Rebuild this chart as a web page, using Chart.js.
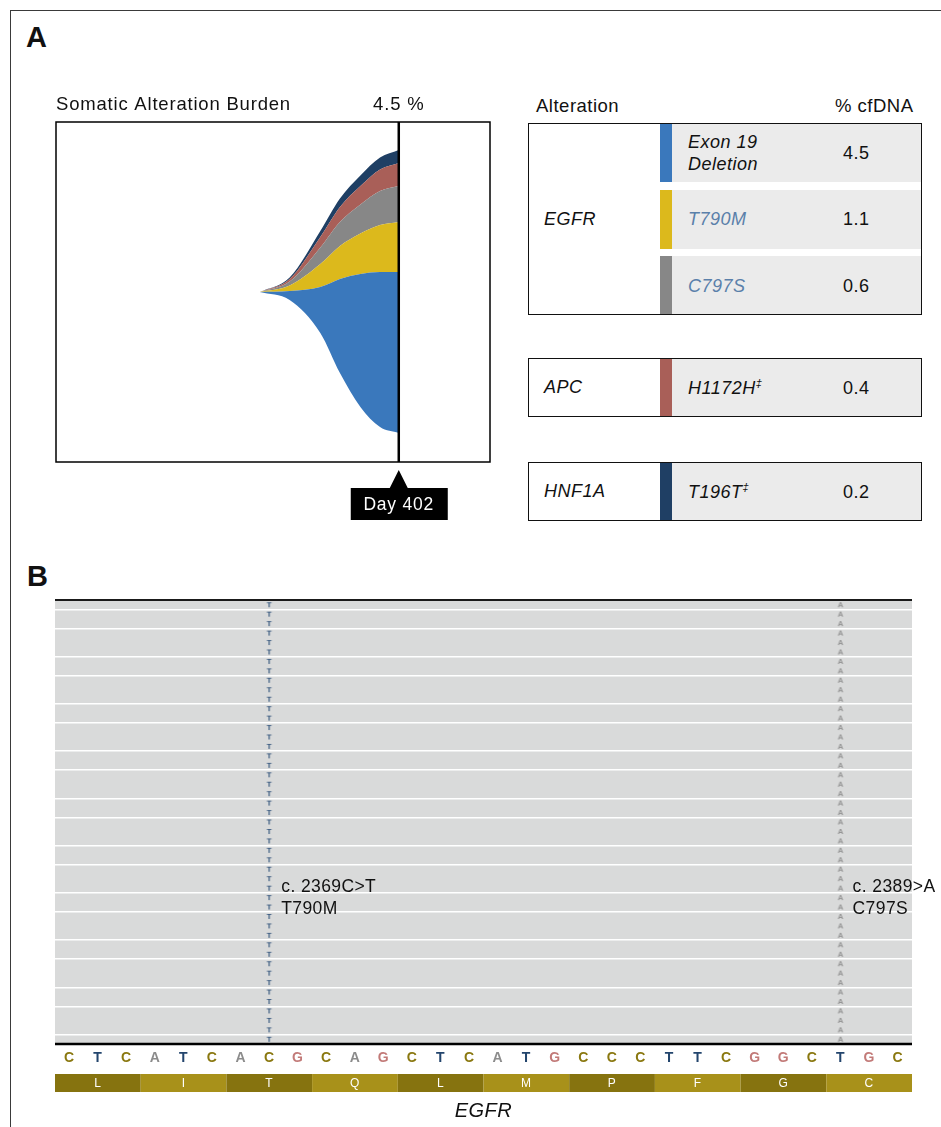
<!DOCTYPE html>
<html>
<head>
<meta charset="utf-8">
<title>Somatic alteration burden</title>
<script src="https://cdn.jsdelivr.net/npm/chart.js@4.4.1/dist/chart.umd.min.js"></script>
<style>
  body { margin: 0; width: 941px; height: 1127px; position: relative; overflow: hidden; background: #fff;
         font-family: "Liberation Sans", Arial, sans-serif; color: #111; letter-spacing: 0.5px; }
  .frame { position: absolute; left: 10px; top: 10px; width: 960px; height: 1140px;
           border-top: 1.5px solid #3a3a3a; border-left: 1.5px solid #3a3a3a; }
  .panel { position: absolute; font-weight: bold; font-size: 29px; line-height: 29px; letter-spacing: 0; }
  canvas { position: absolute; }
  .hdr { position: absolute; font-size: 18.5px; line-height: 20px; }
  .box { position: absolute; box-sizing: border-box; border: 1.5px solid #111; z-index: 2; }
  .gene { position: absolute; display: flex; align-items: center; font-style: italic; font-size: 18px; }
  .strip { position: absolute; width: 12px; }
  .cell { position: absolute; display: flex; align-items: center; background: #ebebeb;
          font-size: 18px; line-height: 22px; box-sizing: border-box; padding-left: 16px; }
  .cell .alt { font-style: italic; }
  .cell .val { position: absolute; left: 171px; }
  .cell sup { font-size: 11px; line-height: 0; vertical-align: 7px; }
</style>
</head>
<body>
<div class="frame"></div>
<div class="panel" style="left:26px;top:23px">A</div>
<div class="panel" style="left:27px;top:562px">B</div>
<canvas id="burden" width="460" height="445" style="left:40px;top:90px"></canvas>
<div class="hdr" style="left:536px;top:96px">Alteration</div>
<div class="hdr" style="left:835px;top:96px">% cfDNA</div>
<div id="tabla"></div>
<canvas id="pileup" width="895" height="542" style="left:40px;top:585px"></canvas>
<script>
// Alterations table
const genes = ['EGFR', 'APC', 'HNF1A'];
const geneRows = [3, 1, 1];
const alterations = ['Exon 19<br>Deletion', 'T790M', 'C797S', 'H1172H<sup>‡</sup>', 'T196T<sup>‡</sup>'];
const cfDNA = [4.5, 1.1, 0.6, 0.4, 0.2];
const highlighted = [false, true, true, false, false];
const colors = ['#3a78bc', '#dcb91c', '#878787', '#a95f58', '#1f3f64'];

// Stream (burden over time), thickness of each band in plot units
const sampleDay = 402;
const streamDays = [239, 274, 310, 333, 357, 380, 402];
const streamBase = [0, -8, -41, -81, -115, -135, -141];
const bandExon19 = [0, 9, 46, 94, 133, 155, 161];
const bandT790M = [0, 5.5, 23, 33, 40.5, 47, 50];
const bandC797S = [0, 4, 16.5, 24, 29, 34, 36];
const bandH1172H = [0, 2.5, 10.5, 15, 18.5, 21.5, 23];
const bandT196T = [0, 1.5, 6, 8.5, 10.5, 12, 13];

// Read pileup (panel B)
const nucleotides = 'CTCATCACGCAGCTCATGCCCTTCGGCTGC'.split('');
const aminoAcids = ['L', 'I', 'T', 'Q', 'L', 'M', 'P', 'F', 'G', 'C'];
const readGroups = [1, 2, 3, 2, 3, 2, 3, 2, 3, 2, 3, 2, 3, 2, 3, 2, 3, 2, 3, 1];
const variantPos = [7, 27];
const variantBase = ['T', 'A'];
const variantLabels = [['c. 2369C>T', 'T790M'], ['c. 2389>A', 'C797S']];
const labelRow = 31.3;

const baseColors = { C: '#8a7810', T: '#23456d', A: '#8c8c8c', G: '#c27a78' };

// ---- table ----
const tabla = document.getElementById('tabla');
const boxTops = [123, 358, 462];
let r = 0;
genes.forEach(function(g, gi) {
    const top = boxTops[gi];
    const h = geneRows[gi] * 59 + (geneRows[gi] - 1) * 7.5;
    tabla.insertAdjacentHTML('beforeend',
        `<div class="box" style="left:528px;top:${top}px;width:394px;height:${h}px"></div>` +
        `<div class="gene" style="left:544px;top:${top}px;height:${h}px">${g}</div>`);
    for (let k = 0; k < geneRows[gi]; k++, r++) {
        const rt = top + k * 66.5;
        const color = highlighted[r] ? '#5a80aa' : '#111';
        tabla.insertAdjacentHTML('beforeend',
            `<div class="strip" style="left:660px;top:${rt}px;height:59px;background:${colors[r]}"></div>` +
            `<div class="cell" style="left:672px;top:${rt}px;width:249px;height:59px">` +
            `<span class="alt" style="color:${color}">${alterations[r]}</span>` +
            `<span class="val">${cfDNA[r].toFixed(1)}</span></div>`);
    }
});

// ---- stream chart ----
const bands = [bandExon19, bandT790M, bandC797S, bandH1172H, bandT196T];
let bound = streamBase.slice();
const streamSets = [{
    data: streamDays.map((d, i) => ({ x: d, y: bound[i] })),
    fill: false, borderWidth: 0, pointRadius: 0, cubicInterpolationMode: 'monotone'
}];
bands.forEach(function(band, b) {
    bound = bound.map((v, i) => v + band[i]);
    streamSets.push({
        data: streamDays.map((d, i) => ({ x: d, y: bound[i] })),
        fill: '-1', backgroundColor: colors[b], borderWidth: 0, pointRadius: 0,
        cubicInterpolationMode: 'monotone'
    });
});

const burdenFrame = {
    id: 'burdenFrame',
    afterDraw(chart) {
        const { ctx, chartArea: a, scales: { x } } = chart;
        const xd = x.getPixelForValue(sampleDay);
        ctx.save();
        ctx.strokeStyle = '#000';
        ctx.lineWidth = 1.5;
        ctx.strokeRect(a.left, a.top, a.right - a.left, a.bottom - a.top);
        ctx.lineWidth = 2.5;
        ctx.beginPath(); ctx.moveTo(xd, a.top); ctx.lineTo(xd, a.bottom); ctx.stroke();

        ctx.fillStyle = '#111';
        ctx.font = '18.5px "Liberation Sans"';
        ctx.letterSpacing = '0.8px';
        ctx.textAlign = 'left';
        ctx.fillText('Somatic Alteration Burden', a.left, a.top - 12);
        ctx.textAlign = 'center';
        ctx.fillText(Math.max(...cfDNA).toFixed(1) + ' %', xd, a.top - 12);

        // marcador del día
        ctx.fillStyle = '#000';
        ctx.beginPath();
        ctx.moveTo(xd, a.bottom + 8); ctx.lineTo(xd + 9, a.bottom + 26); ctx.lineTo(xd - 9, a.bottom + 26);
        ctx.fill();
        ctx.fillRect(xd - 48, a.bottom + 26, 97, 32);
        ctx.fillStyle = '#fff';
        ctx.font = '17.5px "Liberation Sans"';
        ctx.fillText('Day ' + sampleDay, xd, a.bottom + 48);
        ctx.restore();
    }
};

new Chart(document.getElementById('burden'), {
    type: 'line',
    data: { datasets: streamSets },
    options: {
        responsive: false, animation: false, events: [],
        layout: { padding: { left: 16, top: 32, right: 10, bottom: 73 } },
        plugins: { legend: { display: false }, tooltip: { enabled: false } },
        scales: {
            x: { type: 'linear', min: 0, max: 509, display: false },
            y: { min: -170, max: 170, display: false }
        }
    },
    plugins: [burdenFrame]
});

// ---- pileup chart ----
function letterImage(ch, color) {
    const c = document.createElement('canvas');
    c.width = 8; c.height = 9;
    const g = c.getContext('2d');
    g.font = 'bold 8px "Liberation Sans"';
    g.fillStyle = color;
    g.textAlign = 'center';
    g.textBaseline = 'middle';
    g.fillText(ch, 4, 5);
    return c;
}

const readCount = readGroups.reduce((s, v) => s + v, 0);
const groupLines = [];
readGroups.slice(0, -1).reduce(function(s, v) { groupLines.push(s + v); return s + v; }, 0);

const readSets = variantPos.map(function(p, k) {
    const pts = [];
    for (let i = 0; i < readCount; i++) pts.push({ x: p + 0.5, y: i + 0.5 });
    return {
        data: pts, pointRadius: 3,
        pointStyle: letterImage(variantBase[k], k === 0 ? '#34557c' : '#959595')
    };
});

const pileupDecor = {
    id: 'pileupDecor',
    beforeDraw(chart) {
        const { ctx, chartArea: a } = chart;
        ctx.save();
        ctx.fillStyle = '#d9dada';
        ctx.fillRect(a.left, a.top, a.right - a.left, a.bottom - a.top);
        ctx.restore();
    },
    afterDraw(chart) {
        const { ctx, chartArea: a, scales: { x, y } } = chart;
        ctx.save();
        ctx.strokeStyle = '#1a1a1a'; ctx.lineWidth = 2;
        ctx.beginPath(); ctx.moveTo(a.left, a.top); ctx.lineTo(a.right, a.top); ctx.stroke();
        ctx.strokeStyle = '#000'; ctx.lineWidth = 2.5;
        ctx.beginPath(); ctx.moveTo(a.left, a.bottom); ctx.lineTo(a.right, a.bottom); ctx.stroke();

        // secuencia de referencia
        ctx.textAlign = 'center';
        ctx.textBaseline = 'middle';
        ctx.font = 'bold 14px "Liberation Sans"';
        nucleotides.forEach(function(n, i) {
            ctx.fillStyle = baseColors[n];
            ctx.fillText(n, x.getPixelForValue(i + 0.5), a.bottom + 14);
        });

        // codones
        ctx.font = '12px "Liberation Sans"';
        aminoAcids.forEach(function(aa, k) {
            const x0 = x.getPixelForValue(3 * k), x1 = x.getPixelForValue(3 * k + 3);
            ctx.fillStyle = k % 2 ? '#a8911a' : '#86730f';
            ctx.fillRect(x0, a.bottom + 30, x1 - x0, 18);
            ctx.fillStyle = '#fff';
            ctx.fillText(aa, (x0 + x1) / 2, a.bottom + 39.5);
        });

        ctx.textBaseline = 'alphabetic';
        ctx.fillStyle = '#111';
        ctx.font = 'italic 20px "Liberation Sans Narrow", "Liberation Sans"';
        ctx.fillText('EGFR', (a.left + a.right) / 2, a.bottom + 73);

        ctx.textAlign = 'left';
        ctx.font = '17.5px "Liberation Sans"';
        ctx.letterSpacing = '0.4px';
        variantPos.forEach(function(p, k) {
            const px = x.getPixelForValue(p + 0.5) + 12;
            const py = y.getPixelForValue(labelRow);
            variantLabels[k].forEach((line, j) => ctx.fillText(line, px, py - 4 + j * 22));
        });
        ctx.restore();
    }
};

new Chart(document.getElementById('pileup'), {
    type: 'scatter',
    data: { datasets: readSets },
    options: {
        responsive: false, animation: false, events: [],
        layout: { padding: { left: 15, top: 15, right: 23, bottom: 83 } },
        plugins: { legend: { display: false }, tooltip: { enabled: false } },
        scales: {
            x: { type: 'linear', min: 0, max: nucleotides.length, display: false },
            y: {
                type: 'linear', min: 0, max: readCount, reverse: true,
                ticks: { display: false },
                border: { display: false },
                grid: { color: '#ffffff', lineWidth: 1.4, drawTicks: false },
                afterBuildTicks: function(axis) {
                    axis.ticks = groupLines.map(v => ({ value: v }));
                }
            }
        }
    },
    plugins: [pileupDecor]
});
</script>
</body>
</html>
